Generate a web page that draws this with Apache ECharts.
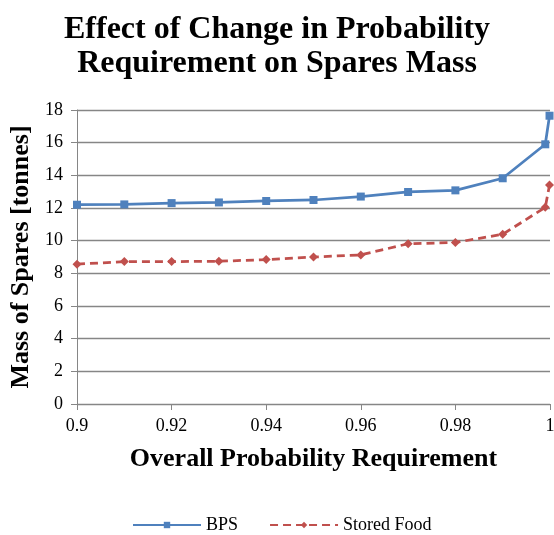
<!DOCTYPE html>
<html>
<head>
<meta charset="utf-8">
<script src="https://cdn.jsdelivr.net/npm/echarts@6/dist/echarts.min.js"></script>
<style>
html,body{margin:0;padding:0;background:#fff;}
#c{width:554px;height:535px;}
</style>
</head>
<body>
<div id="c"></div>
<script>
var probabilities = [0.9, 0.91, 0.92, 0.93, 0.94, 0.95, 0.96, 0.97, 0.98, 0.99, 0.999, 0.9999];
var bpsMass = [12.2, 12.22, 12.3, 12.34, 12.43, 12.49, 12.7, 12.98, 13.08, 13.82, 15.9, 17.65];
var storedFoodMass = [8.56, 8.72, 8.72, 8.74, 8.84, 9.0, 9.13, 9.81, 9.89, 10.39, 12.04, 13.41];
var seriesNames = ['BPS', 'Stored Food'];

function pairs(xs, ys) { return xs.map(function (x, i) { return [x, ys[i]]; }); }

var font = '"Liberation Serif", "Times New Roman", serif';
var chart = echarts.init(document.getElementById('c'));
chart.setOption({
  animation: false,
  backgroundColor: '#fff',
  title: {
    text: 'Effect of Change in Probability\nRequirement on Spares Mass',
    left: 'center',
    top: 8,
    textStyle: { fontFamily: font, fontWeight: 'bold', fontSize: 32, lineHeight: 34, color: '#000' }
  },
  legend: {
    top: 511,
    left: 127,
    itemWidth: 68,
    itemHeight: 8,
    itemGap: 31,
    textStyle: { fontFamily: font, fontSize: 18, color: '#000' },
    data: seriesNames
  },
  grid: { left: 77, right: 4, top: 110, bottom: 131, outerBoundsMode: 'none' },
  xAxis: {
    type: 'value',
    min: 0.9, max: 1, interval: 0.02,
    name: 'Overall Probability Requirement',
    nameLocation: 'middle',
    nameGap: 42,
    nameTextStyle: { fontFamily: font, fontWeight: 'bold', fontSize: 26, color: '#000' },
    axisLine: { show: true, lineStyle: { color: '#868686', width: 1 } },
    axisTick: { show: true, length: 6, lineStyle: { color: '#868686' } },
    axisLabel: {
      fontFamily: font, fontSize: 18, color: '#000', margin: 13,
      formatter: function (v) { return String(parseFloat(v.toFixed(2))); }
    },
    splitLine: { show: false }
  },
  yAxis: {
    type: 'value',
    min: 0, max: 18, interval: 2,
    name: 'Mass of Spares [tonnes]',
    nameLocation: 'middle',
    nameGap: 39,
    nameTextStyle: { fontFamily: font, fontWeight: 'bold', fontSize: 26, color: '#000' },
    axisLine: { show: true, lineStyle: { color: '#868686', width: 1 } },
    axisTick: { show: true, length: 6, lineStyle: { color: '#868686' } },
    axisLabel: { fontFamily: font, fontSize: 18, color: '#000', margin: 14 },
    splitLine: { show: true, lineStyle: { color: '#868686', width: 1.3 } }
  },
  series: [
    {
      name: seriesNames[0],
      type: 'line',
      data: pairs(probabilities, bpsMass),
      symbol: 'rect',
      symbolSize: 8,
      itemStyle: { color: '#4F81BD' },
      lineStyle: { color: '#4F81BD', width: 2.75 }
    },
    {
      name: seriesNames[1],
      type: 'line',
      data: pairs(probabilities, storedFoodMass),
      symbol: 'diamond',
      symbolSize: 9,
      itemStyle: { color: '#C0504D' },
      lineStyle: { color: '#C0504D', width: 2.75, type: [8, 5] }
    }
  ]
});
</script>
</body>
</html>
